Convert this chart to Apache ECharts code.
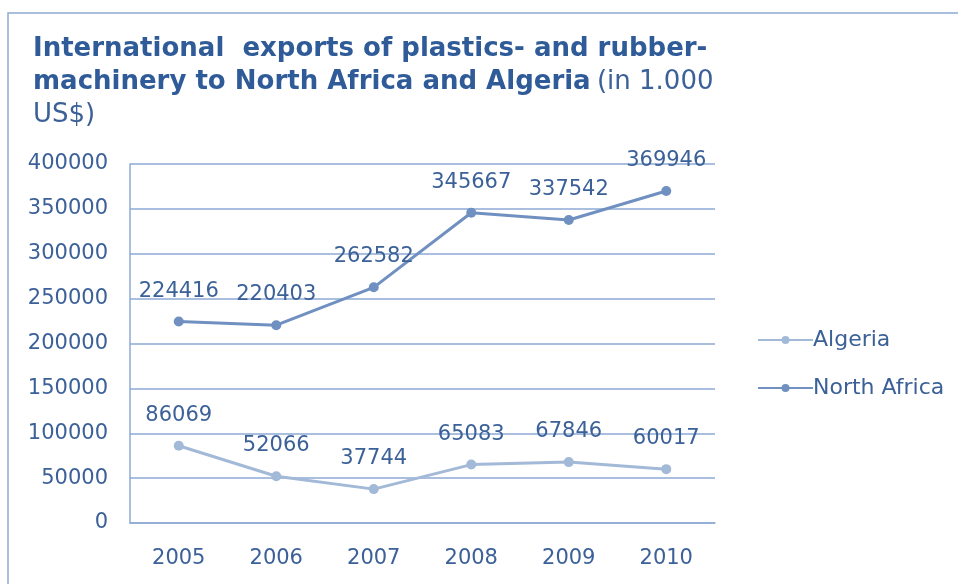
<!DOCTYPE html>
<html><head><meta charset="utf-8">
<script src="https://cdn.jsdelivr.net/npm/echarts@6/dist/echarts.min.js"></script>
<style>html,body{margin:0;padding:0;background:#fff}#c{width:958px;height:584px}</style>
</head><body><div id="c"></div>
<script>
const years = ['2005','2006','2007','2008','2009','2010'];
const algeria = [86069, 52066, 37744, 65083, 67846, 60017];
const northAfrica = [224416, 220403, 262582, 345667, 337542, 369946];
const yTicks = {min: 0, max: 400000, interval: 50000};

const txt = '#3b6198';
const grid = '#8eaad4';
const font = 'DejaVu Sans';
const chart = echarts.init(document.getElementById('c'));
chart.setOption({
  animation: false,
  textStyle: {fontFamily: font},
  graphic: [{type: 'rect', shape: {x: 8, y: 13, width: 960, height: 600}, style: {fill: 'none', stroke: grid, lineWidth: 1.5}}],
  title: {
    left: 28, top: 28, padding: 5,
    text: '{b|International  exports of plastics- and rubber-}\n{b|machinery to North Africa and Algeria} {n|(in 1.000}\n{n|US$)}',
    textStyle: {
      lineHeight: 33,
      rich: {
        b: {fontFamily: font, fontWeight: 'bold', fontSize: 26, color: '#2f5b99', lineHeight: 33},
        n: {fontFamily: font, fontWeight: 'normal', fontSize: 26, color: '#3b6198', lineHeight: 33}
      }
    }
  },
  legend: {
    orient: 'vertical', left: 752, top: 324, itemGap: 26,
    itemWidth: 55, itemHeight: 10,
    textStyle: {color: txt, fontSize: 22, fontFamily: font, padding: [0,0,0,-5]},
    data: ['Algeria', 'North Africa']
  },
  grid: {left: 130, right: 243, top: 164, bottom: 61},
  xAxis: {
    type: 'category', data: years, boundaryGap: true,
    axisLine: {show: true, lineStyle: {color: grid, width: 1.5}},
    axisTick: {show: false},
    axisLabel: {color: txt, fontSize: 21, margin: 25}
  },
  yAxis: {
    type: 'value', min: yTicks.min, max: yTicks.max, interval: yTicks.interval,
    axisLine: {show: true, lineStyle: {color: grid, width: 1.5}},
    axisTick: {show: false},
    axisLabel: {color: txt, fontSize: 21, margin: 22, formatter: v => String(v)},
    splitLine: {lineStyle: {color: grid, width: 1.5}}
  },
  series: [
    {name: 'Algeria', type: 'line', data: algeria, symbol: 'circle', symbolSize: 10,
     lineStyle: {color: '#a3b9d8', width: 3}, itemStyle: {color: '#a3b9d8'},
     label: {show: true, position: 'top', distance: 15, color: txt, fontSize: 21}},
    {name: 'North Africa', type: 'line', data: northAfrica, symbol: 'circle', symbolSize: 10,
     lineStyle: {color: '#6f90c0', width: 3}, itemStyle: {color: '#6f90c0'},
     label: {show: true, position: 'top', distance: 15, color: txt, fontSize: 21}}
  ]
});
</script></body></html>
